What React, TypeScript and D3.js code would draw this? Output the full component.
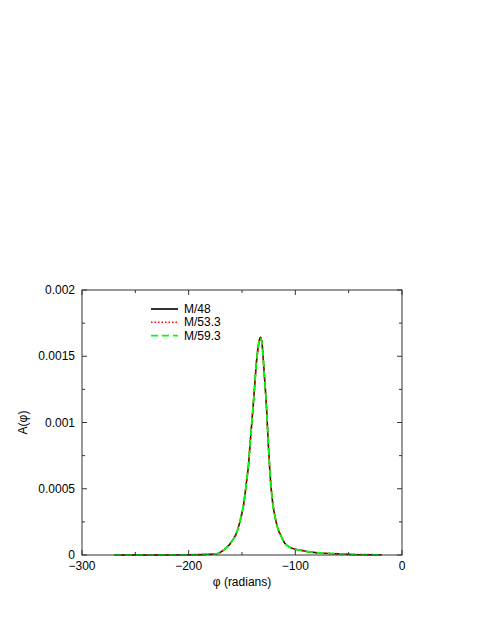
import React from "react";
import * as d3 from "d3";

const phi = [-270, -250, -230, -210, -195, -185, -178, -174, -170, -166, -162, -159, -156, -153, -150.5, -148.5, -147, -145.5, -144, -142.5, -141, -139.5, -138, -136.5, -135, -134, -133.2, -132.5, -131.8, -131, -130, -129, -128, -127, -126, -125, -124, -122.5, -121, -119.5, -118, -116, -114, -112, -110, -107, -104, -100, -95, -88, -80, -70, -60, -50, -40, -30, -19];
const m48 = [0, 0, 0.0000005, 0.000001, 0.000002, 0.000004, 0.000006, 0.0000085, 0.000022, 0.000045, 0.000075, 0.00011, 0.00015, 0.00022, 0.0003, 0.00038, 0.00047, 0.00057, 0.00067, 0.00083, 0.00098, 0.00113, 0.00129, 0.00145, 0.00156, 0.00161, 0.001635, 0.001643, 0.001625, 0.00158, 0.00147, 0.00135, 0.00124, 0.00111, 0.00095, 0.00079, 0.00065, 0.00049, 0.00038, 0.00031, 0.00025, 0.00019, 0.000155, 0.00012, 0.00009, 0.000068, 0.000053, 0.000043, 0.000036, 0.000025, 0.000017, 0.000012, 0.000009, 0.000005, 0.000003, 0.000002, 0.000001];
const m53 = [0, 0, 0.0000005, 0.000001, 0.000002, 0.000004, 0.000006, 0.0000085, 0.000022, 0.000045, 0.000075, 0.00011, 0.00015, 0.00022, 0.0003, 0.00038, 0.00047, 0.00057, 0.00067, 0.00083, 0.00098, 0.00113, 0.00129, 0.00145, 0.00156, 0.00161, 0.001635, 0.001641, 0.001624, 0.00158, 0.00147, 0.00135, 0.00124, 0.00111, 0.00095, 0.00079, 0.00065, 0.00049, 0.00038, 0.00031, 0.00025, 0.00019, 0.000155, 0.00012, 0.00009, 0.000068, 0.000053, 0.000043, 0.000036, 0.000025, 0.000017, 0.000012, 0.000009, 0.000005, 0.000003, 0.000002, 0.000001];
const m59 = [0, 0, 0.0000005, 0.000001, 0.000002, 0.000004, 0.000006, 0.0000085, 0.000022, 0.000045, 0.000075, 0.00011, 0.00015, 0.00022, 0.0003, 0.00038, 0.00047, 0.00057, 0.00067, 0.00083, 0.00098, 0.00113, 0.00129, 0.00145, 0.00156, 0.00161, 0.001634, 0.00164, 0.001623, 0.00158, 0.00147, 0.00135, 0.00124, 0.00111, 0.00095, 0.00079, 0.00065, 0.00049, 0.00038, 0.00031, 0.00025, 0.00019, 0.000155, 0.00012, 0.00009, 0.000068, 0.000053, 0.000043, 0.000036, 0.000025, 0.000017, 0.000012, 0.000009, 0.000005, 0.000003, 0.000002, 0.000001];

const seriesNames = ["M/48", "M/53.3", "M/59.3"];
const seriesColors = ["#000000", "#ff0000", "#00ff00"];
const seriesDash = ["none", "1.5,2", "7,4"];
const seriesData = [m48, m53, m59];

const xMajor = [-300, -200, -100, 0];
const xMinor = [-250, -150, -50];
const yMajor = [0, 0.0005, 0.001, 0.0015, 0.002];
const yMinor = [0.00025, 0.00075, 0.00125, 0.00175];
const yLabels = ["0", "0.0005", "0.001", "0.0015", "0.002"];
const xLabels = ["\u2212300", "\u2212200", "\u2212100", "0"];

export default function App() {
  const W = 485, H = 627;
  const L = 82, R = 402, T = 290, B = 555;
  const x = d3.scaleLinear().domain([-300, 0]).range([L, R]);
  const y = d3.scaleLinear().domain([0, 0.002]).range([B, T]);
  const font = "'Liberation Sans', Arial, Helvetica, sans-serif";
  const axisCol = "#333";
  const line = (vals: number[]) =>
    d3.line<number>().x((_, i) => x(phi[i])).y((v) => y(v)).curve(d3.curveMonotoneX)(vals) || "";

  return (
    <svg width={W} height={H} style={{ position: "absolute", left: 0, top: 0 }}>
      <rect width={W} height={H} fill="#fff" />
      {seriesData.map((vals, i) => (
        <path key={i} d={line(vals)} fill="none" stroke={seriesColors[i]} strokeWidth={i === 0 ? 1.4 : 1.8}
          strokeDasharray={seriesDash[i]} strokeLinejoin="round" />
      ))}
      <rect x={L} y={T} width={R - L} height={B - T} fill="none" stroke={axisCol} strokeWidth={1} />
      {xMajor.map((v) => (
        <g key={"xM" + v}>
          <line x1={x(v)} x2={x(v)} y1={B} y2={B - 5} stroke={axisCol} />
          <line x1={x(v)} x2={x(v)} y1={T} y2={T + 5} stroke={axisCol} />
        </g>
      ))}
      {xMinor.map((v) => (
        <g key={"xm" + v}>
          <line x1={x(v)} x2={x(v)} y1={B} y2={B - 3} stroke={axisCol} />
          <line x1={x(v)} x2={x(v)} y1={T} y2={T + 3} stroke={axisCol} />
        </g>
      ))}
      {yMajor.map((v) => (
        <g key={"yM" + v}>
          <line x1={L} x2={L + 5} y1={y(v)} y2={y(v)} stroke={axisCol} />
          <line x1={R} x2={R - 5} y1={y(v)} y2={y(v)} stroke={axisCol} />
        </g>
      ))}
      {yMinor.map((v) => (
        <g key={"ym" + v}>
          <line x1={L} x2={L + 3} y1={y(v)} y2={y(v)} stroke={axisCol} />
          <line x1={R} x2={R - 3} y1={y(v)} y2={y(v)} stroke={axisCol} />
        </g>
      ))}
      {xMajor.map((v, i) => (
        <text key={"xl" + v} x={x(v)} y={B + 15} textAnchor="middle" fontFamily={font} fontSize={12} fill="#000">
          {xLabels[i]}
        </text>
      ))}
      {yMajor.map((v, i) => (
        <text key={"yl" + v} x={L - 7} y={y(v) + 4} textAnchor="end" fontFamily={font} fontSize={12} fill="#000">
          {yLabels[i]}
        </text>
      ))}
      <text x={(L + R) / 2} y={586} textAnchor="middle" fontFamily={font} fontSize={12} fill="#000">
        φ (radians)
      </text>
      <text transform={`translate(27,${(T + B) / 2}) rotate(-90)`} textAnchor="middle" fontFamily={font} fontSize={12} fill="#000">
        A(φ)
      </text>
      {seriesNames.map((n, i) => (
        <g key={n}>
          <line x1={151} x2={178} y1={309 + i * 13.3} y2={309 + i * 13.3} stroke={seriesColors[i]} strokeWidth={1.6}
            strokeDasharray={seriesDash[i]} />
          <text x={184} y={309 + i * 13.3 + 4} fontFamily={font} fontSize={12} fill="#000">{n}</text>
        </g>
      ))}
    </svg>
  );
}
